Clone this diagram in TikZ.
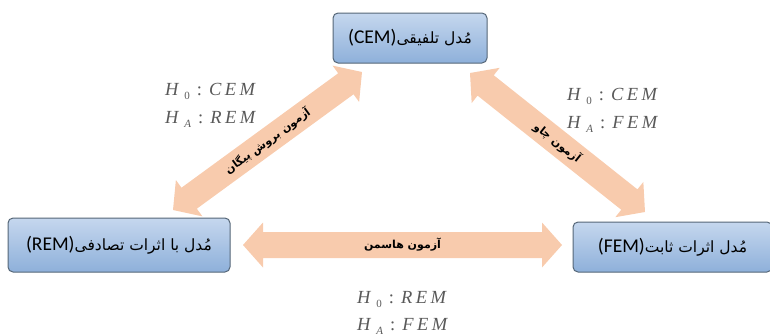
\documentclass[tikz,border=0pt]{standalone}
\usepackage{fontspec}
\setmainfont{Liberation Serif}
\newfontfamily\arabicfont[Script=Arabic]{DejaVu Sans}
\newfontfamily\boxlatin{Carlito}
\TeXXeTstate=1
\usetikzlibrary{calc}
\definecolor{boxtop}{HTML}{C5D7EE}
\definecolor{boxbot}{HTML}{8EB0DA}
\definecolor{boxedge}{HTML}{556677}
\definecolor{peach}{HTML}{F8CBAD}
\definecolor{hyptext}{HTML}{595959}
\tikzset{
  model/.style={draw=boxedge, line width=1pt, rounded corners=5pt, top color=boxtop, bottom color=boxbot, inner sep=0pt},
  testlabel/.style={font=\arabicfont\bfseries\fontsize{11}{13}\selectfont, inner sep=0pt},
  hyp/.style={anchor=base west, text=hyptext, inner sep=0pt, font=\fontsize{18.5}{20}\selectfont},
}
\newcommand\fatarrow[2]{%
  \fill[peach] (#1) -- ($(#1)!20pt!(#2)!22.5pt!90:(#2)$) -- ($(#1)!20pt!(#2)!13pt!90:(#2)$)
   -- ($(#2)!20pt!(#1)!13pt!-90:(#1)$) -- ($(#2)!20pt!(#1)!22.5pt!-90:(#1)$) -- (#2)
   -- ($(#2)!20pt!(#1)!22.5pt!90:(#1)$) -- ($(#2)!20pt!(#1)!13pt!90:(#1)$)
   -- ($(#1)!20pt!(#2)!13pt!-90:(#2)$) -- ($(#1)!20pt!(#2)!22.5pt!-90:(#2)$) -- cycle;}
\newcommand\hypline[3]{\textit{H}\hspace{5pt}\raisebox{-4pt}{\fontsize{11}{11}\selectfont #1}\hspace{7pt}:\hspace{7pt}\textit{#2\hspace{3.5pt}#3}}
\newcommand\modeltext[2]{\arabicfont\fontsize{15.5}{20}\selectfont\beginR #1\beginL{\boxlatin\fontsize{19.5}{20}\selectfont(#2)}\endL\endR}
\begin{document}
\begin{tikzpicture}[x=1pt,y=1pt]
\useasboundingbox (0,0) rectangle (770,-335);
% boxes
\node[model, minimum width=154pt, minimum height=50pt] (cem) at (410,-38)
  {\modeltext{مُدل تلفیقی}{CEM}};
\node[model, minimum width=222pt, minimum height=54pt] (rem) at (119,-245)
  {\modeltext{مُدل با اثرات تصادفی}{REM}};
\node[model, minimum width=199pt, minimum height=50pt] (fem) at (672.5,-247)
  {\modeltext{مُدل اثرات ثابت}{FEM}};
% arrow ends
\coordinate (a1) at (173,-210);
\coordinate (a2) at (362,-72);
\coordinate (b1) at (470,-73);
\coordinate (b2) at (645,-212);
\coordinate (c1) at (243,-245);
\coordinate (c2) at (562,-245);
\fatarrow{a1}{a2}
\fatarrow{b1}{b2}
\fatarrow{c1}{c2}
\path (a1) -- (a2) node[testlabel, midway, sloped] (la) {\beginR آزمون بروش پیگان\endR};
\path (b1) -- (b2) node[testlabel, midway, sloped] (lb) {\beginR آزمون چاو\endR};
\path (c1) -- (c2) node[testlabel, midway] (lc) {\beginR آزمون هاسمن\endR};
% hypotheses
\node[hyp] (h1) at (165,-95) {\hypline{0}{C\hspace{3.5pt}E}{M}};
\node[hyp] (h2) at (165,-123) {\hypline{\textit{A}}{R\hspace{3.5pt}E}{M}};
\node[hyp] (h3) at (567,-100) {\hypline{0}{C\hspace{3.5pt}E}{M}};
\node[hyp] (h4) at (567,-128) {\hypline{\textit{A}}{F\hspace{3.5pt}E}{M}};
\node[hyp] (h5) at (357,-303) {\hypline{0}{R\hspace{3.5pt}E}{M}};
\node[hyp] (h6) at (357,-330) {\hypline{\textit{A}}{F\hspace{3.5pt}E}{M}};
\end{tikzpicture}
\end{document}
